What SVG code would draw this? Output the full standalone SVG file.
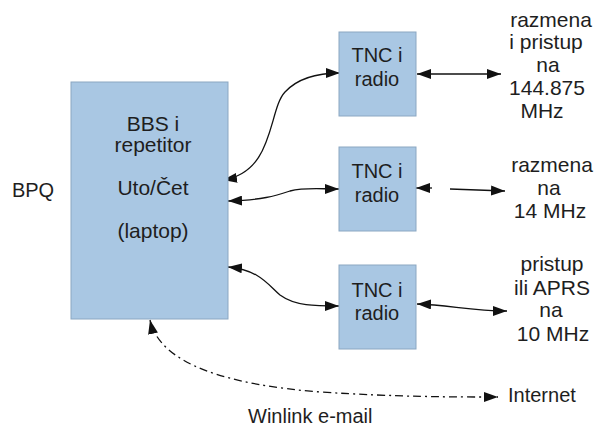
<svg xmlns="http://www.w3.org/2000/svg" width="597" height="428" viewBox="0 0 597 428">
<defs>
<style>
.box{fill:#a9c7e3;stroke:#8ba7c2;stroke-width:1}
.t{font-family:"Liberation Sans",Arial,sans-serif;font-size:20px;fill:#1e1e1e;text-anchor:middle}
.tl{font-family:"Liberation Sans",Arial,sans-serif;font-size:21px;fill:#1e1e1e;text-anchor:middle}
.c{fill:none;stroke:#111;stroke-width:1.3}
.dd{stroke-dasharray:8 4 2 4}
</style>
<marker id="ah" viewBox="0 0 14 10" refX="14" refY="5" markerWidth="14" markerHeight="10" markerUnits="userSpaceOnUse" orient="auto-start-reverse">
<path d="M0,0 L14,5 L0,10 Z" fill="#111"/>
</marker>
</defs>
<rect width="597" height="428" fill="#fff"/>
<g id="connectors">
<path class="c" d="M223,180 C275,172 268,110 285,92 C297,79 315,73 340,73" marker-start="url(#ah)" marker-end="url(#ah)"/>
<path class="c" d="M228,201 C262,200 275,196 290,191 C305,187 320,189 339,189" marker-start="url(#ah)" marker-end="url(#ah)"/>
<path class="c" d="M228,267 C260,270 268,285 280,295 C295,306 315,306 339,306" marker-start="url(#ah)" marker-end="url(#ah)"/>
<path class="c" d="M417,74 L501,74" marker-start="url(#ah)" marker-end="url(#ah)"/>
<path class="c" d="M416,188 L432,188" marker-start="url(#ah)"/>
<path class="c" d="M450,189 L505,191" marker-end="url(#ah)"/>
<path class="c" d="M417,304 C450,305 470,311 507,311" marker-start="url(#ah)" marker-end="url(#ah)"/>
<path class="c dd" d="M150,320 C160,365 230,385 320,392 C400,397 450,397 498,397" marker-start="url(#ah)" marker-end="url(#ah)"/>
</g>
<g id="bbs">
<rect class="box" x="71" y="82" width="157" height="237"/>
<text class="tl" x="153" y="131">BBS i</text>
<text class="tl" x="153" y="152">repetitor</text>
<text class="tl" x="153" y="195">Uto/Čet</text>
<text class="tl" x="153" y="238">(laptop)</text>
</g>
<g id="bpq"><text class="t" x="33" y="197">BPQ</text></g>
<g id="tnc1">
<rect class="box" x="339" y="32" width="77" height="84"/>
<text class="t" x="377" y="62">TNC i</text>
<text class="t" x="377" y="86">radio</text>
</g>
<g id="tnc2">
<rect class="box" x="339" y="147" width="77" height="84"/>
<text class="t" x="377" y="178">TNC i</text>
<text class="t" x="377" y="202">radio</text>
</g>
<g id="tnc3">
<rect class="box" x="339" y="265" width="77" height="84"/>
<text class="t" x="377" y="297">TNC i</text>
<text class="t" x="377" y="320">radio</text>
</g>
<g id="label1">
<text class="tl" x="551" y="27">razmena</text>
<text class="tl" x="546" y="49">i pristup</text>
<text class="tl" x="548" y="72">na</text>
<text class="tl" x="547" y="95">144.875</text>
<text class="tl" x="542" y="118">MHz</text>
</g>
<g id="label2">
<text class="tl" x="552" y="172">razmena</text>
<text class="tl" x="549" y="195">na</text>
<text class="tl" x="550" y="218">14 MHz</text>
</g>
<g id="label3">
<text class="tl" x="552" y="271">pristup</text>
<text class="tl" x="552" y="295">ili APRS</text>
<text class="tl" x="551" y="317">na</text>
<text class="tl" x="553" y="341">10 MHz</text>
</g>
<g id="internet"><text class="t" x="508" y="402" style="text-anchor:start">Internet</text></g>
<g id="winlink"><text class="t" x="248" y="423" style="text-anchor:start">Winlink e-mail</text></g>
</svg>
